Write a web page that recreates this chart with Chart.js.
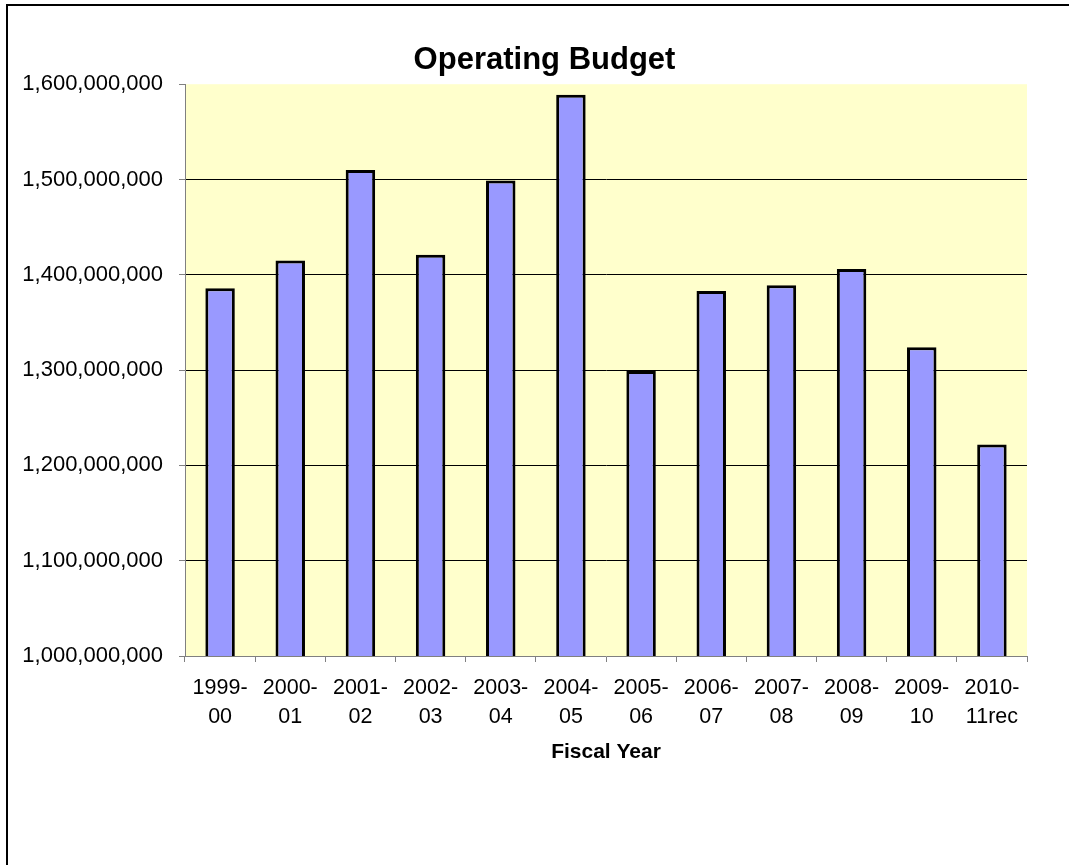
<!DOCTYPE html>
<html>
<head>
<meta charset="utf-8">
<script src="https://cdn.jsdelivr.net/npm/chart.js@4/dist/chart.umd.min.js"></script>
<style>
  html, body { margin: 0; padding: 0; background: #fff; }
  canvas { display: block; }
</style>
</head>
<body>
<canvas id="budget" width="1069" height="865"></canvas>
<script>
const fiscalYears = [
  ['1999-', '00'], ['2000-', '01'], ['2001-', '02'], ['2002-', '03'],
  ['2003-', '04'], ['2004-', '05'], ['2005-', '06'], ['2006-', '07'],
  ['2007-', '08'], ['2008-', '09'], ['2009-', '10'], ['2010-', '11rec'],
]
const operatingBudget = [
  1386000000, 1415000000, 1510000000, 1421000000,
  1499000000, 1589000000, 1299000000, 1383000000,
  1389000000, 1406000000, 1324000000, 1222000000,
]
const yMin = 1000000000
const yMax = 1600000000
const yStep = 100000000

const FONT = 'Arial, "Liberation Sans", sans-serif'

// outer frame + yellow plot background
const chartBackdrop = {
  id: 'chartBackdrop',
  beforeDraw(chart) {
    const { ctx, chartArea } = chart
    ctx.save()
    ctx.fillStyle = '#FFFFCC'
    ctx.fillRect(chartArea.left, chartArea.top, chartArea.right - chartArea.left, chartArea.bottom - chartArea.top)
    ctx.strokeStyle = '#000'
    ctx.lineWidth = 2
    ctx.strokeRect(7, 5, 1200, 1000)
    ctx.restore()
  },
}

const ctx = document.getElementById('budget').getContext('2d')
new Chart(ctx, {
  type: 'bar',
  data: {
    labels: fiscalYears,
    datasets: [{
      label: 'Operating Budget',
      data: operatingBudget,
      backgroundColor: '#9999FF',
      borderColor: '#000',
      borderWidth: 3,
      barPercentage: 0.42,
      categoryPercentage: 1,
    }],
  },
  options: {
    responsive: false,
    animation: false,
    devicePixelRatio: 1,
    layout: { padding: { left: 20, right: 0, top: 0, bottom: 100 } },
    plugins: {
      legend: { display: false },
      tooltip: { enabled: false },
      title: {
        display: true,
        text: 'Operating Budget',
        color: '#000',
        font: { family: FONT, size: 31, weight: 'bold', lineHeight: 1.2 },
        padding: { top: 42, bottom: 5 },
      },
    },
    scales: {
      x: {
        afterFit: (scale) => { scale.height = 109 },
        grid: {
          display: true,
          drawOnChartArea: false,
          offset: true,
          tickLength: 6,
          color: '#808080',
          tickColor: '#808080',
        },
        border: { color: '#808080', width: 1 },
        ticks: {
          color: '#000',
          padding: 12,
          maxRotation: 0,
          autoSkip: false,
          font: { family: FONT, size: 21.5, lineHeight: 1.33 },
        },
        title: {
          display: true,
          text: 'Fiscal Year',
          color: '#000',
          font: { family: FONT, size: 21, weight: 'bold', lineHeight: 1.2 },
          padding: { top: 4, bottom: 0 },
        },
      },
      y: {
        min: yMin,
        max: yMax,
        afterFit: (scale) => { scale.width = 165 },
        grid: {
          color: (c) => (c.tick && (c.tick.value === yMin || c.tick.value === yMax)) ? 'rgba(0,0,0,0)' : '#000',
          tickColor: '#808080',
          tickLength: 6,
          lineWidth: 1,
        },
        border: { color: '#808080', width: 1 },
        ticks: {
          stepSize: yStep,
          color: '#000',
          padding: 16,
          font: { family: FONT, size: 22 },
          callback: (v) => Number(v).toLocaleString('en-US'),
        },
      },
      // empty right-hand axis, only reserves the margin right of the plot
      spacer: {
        type: 'linear',
        position: 'right',
        afterFit: (scale) => { scale.width = 42 },
        grid: { display: false },
        border: { display: false },
        ticks: { display: false },
      },
    },
  },
  plugins: [chartBackdrop],
})
</script>
</body>
</html>
